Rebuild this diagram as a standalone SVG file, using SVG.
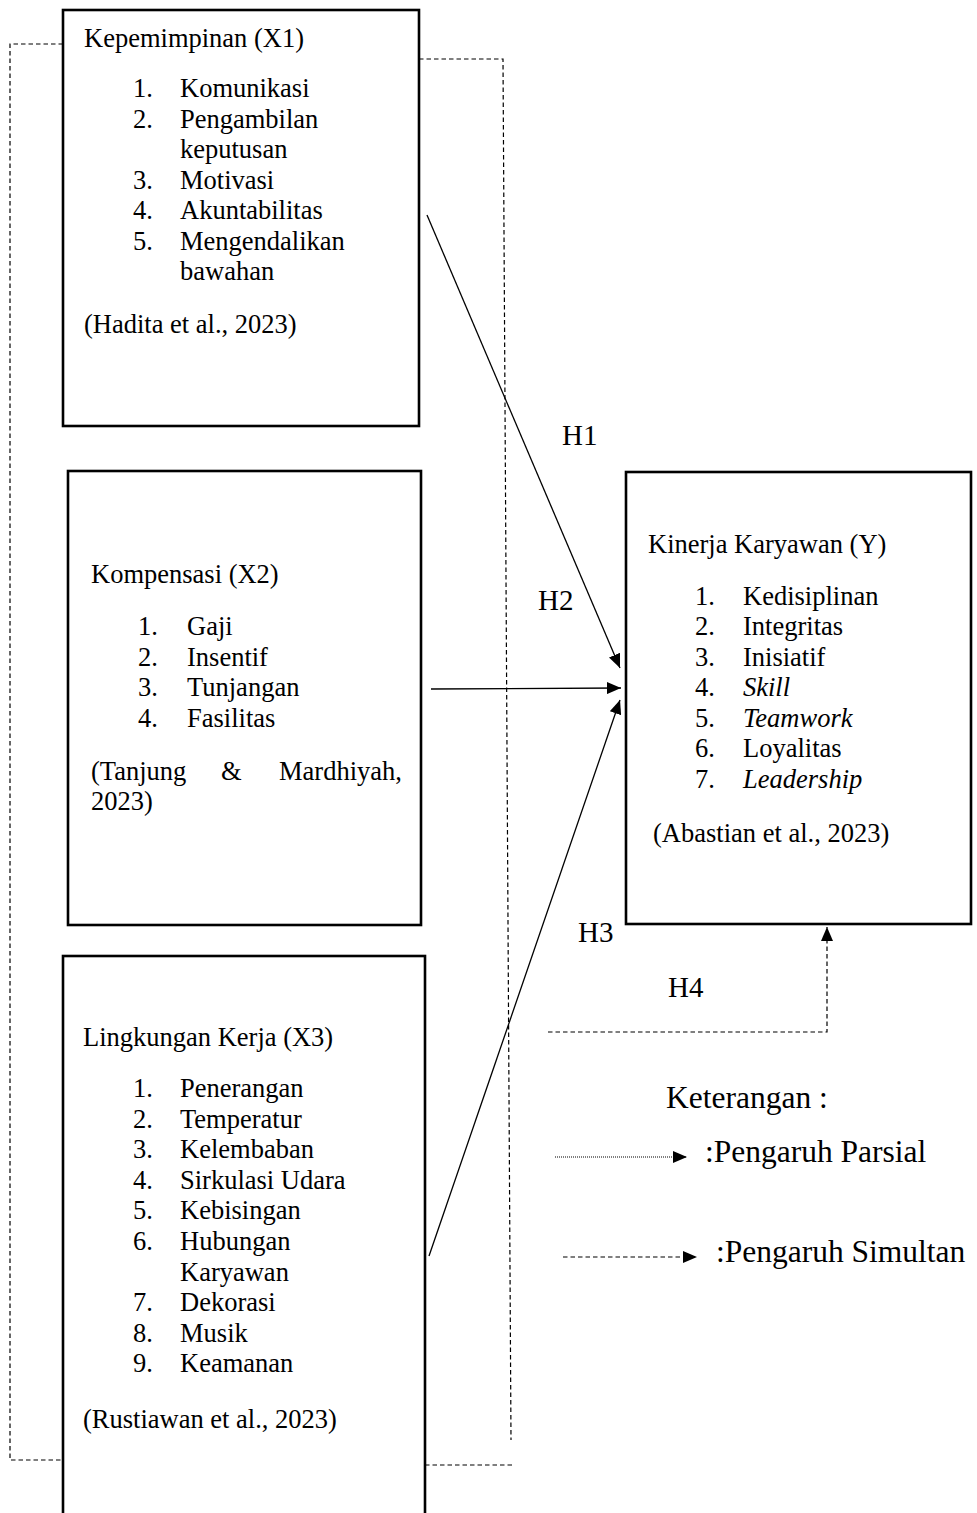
<svg xmlns="http://www.w3.org/2000/svg" width="977" height="1513" viewBox="0 0 977 1513">
<style>
text{font-family:"Liberation Serif","Times New Roman",serif;fill:#000}
.t{font-size:26.5px}
.h{font-size:29px}
.lg{font-size:31.5px}
.i{font-style:italic}
.box{fill:none;stroke:#000;stroke-width:2.6}
.con{fill:none;stroke:#000;stroke-width:1.3}
.dash{fill:none;stroke:#000;stroke-width:1.2;stroke-dasharray:4.5 3}
.dot{fill:none;stroke:#000;stroke-width:1.2;stroke-dasharray:1 1}
</style>
<defs>
<marker id="arr" viewBox="0 0 14 12" refX="14" refY="6" markerWidth="14" markerHeight="12" markerUnits="userSpaceOnUse" orient="auto">
<path d="M0,0 L14,6 L0,12 Z" fill="#000"/>
</marker>
</defs>
<rect width="977" height="1513" fill="#fff"/>

<g id="frame">
<polyline class="dash" points="63,44 10,44 10,1460 63,1460"/>
<polyline class="dash" points="419,59 503,59 511,1440"/>
<line class="dash" x1="425" y1="1465" x2="514" y2="1465"/>
</g>

<g id="x1">
<rect class="box" x="63" y="10" width="356" height="416"/>
<text class="t" x="84" y="47">Kepemimpinan (X1)</text>
<text class="t" x="133" y="97">1.</text><text class="t" x="180" y="97">Komunikasi</text>
<text class="t" x="133" y="127.5">2.</text><text class="t" x="180" y="127.5">Pengambilan</text>
<text class="t" x="180" y="158">keputusan</text>
<text class="t" x="133" y="188.5">3.</text><text class="t" x="180" y="188.5">Motivasi</text>
<text class="t" x="133" y="219">4.</text><text class="t" x="180" y="219">Akuntabilitas</text>
<text class="t" x="133" y="249.5">5.</text><text class="t" x="180" y="249.5">Mengendalikan</text>
<text class="t" x="180" y="280">bawahan</text>
<text class="t" x="84" y="333">(Hadita et al., 2023)</text>
</g>

<g id="x2">
<rect class="box" x="68" y="471" width="353" height="454"/>
<text class="t" x="91" y="583">Kompensasi (X2)</text>
<text class="t" x="138" y="635">1.</text><text class="t" x="187" y="635">Gaji</text>
<text class="t" x="138" y="666">2.</text><text class="t" x="187" y="666">Insentif</text>
<text class="t" x="138" y="696">3.</text><text class="t" x="187" y="696">Tunjangan</text>
<text class="t" x="138" y="727">4.</text><text class="t" x="187" y="727">Fasilitas</text>
<text class="t" x="91" y="780">(Tanjung</text>
<text class="t" x="221" y="780">&amp;</text>
<text class="t" x="279" y="780">Mardhiyah,</text>
<text class="t" x="91" y="810">2023)</text>
</g>

<g id="x3">
<rect class="box" x="63" y="956" width="362" height="570"/>
<text class="t" x="83" y="1046">Lingkungan Kerja (X3)</text>
<text class="t" x="133" y="1097">1.</text><text class="t" x="180" y="1097">Penerangan</text>
<text class="t" x="133" y="1128">2.</text><text class="t" x="180" y="1128">Temperatur</text>
<text class="t" x="133" y="1158">3.</text><text class="t" x="180" y="1158">Kelembaban</text>
<text class="t" x="133" y="1189">4.</text><text class="t" x="180" y="1189">Sirkulasi Udara</text>
<text class="t" x="133" y="1219">5.</text><text class="t" x="180" y="1219">Kebisingan</text>
<text class="t" x="133" y="1250">6.</text><text class="t" x="180" y="1250">Hubungan</text>
<text class="t" x="180" y="1281">Karyawan</text>
<text class="t" x="133" y="1311">7.</text><text class="t" x="180" y="1311">Dekorasi</text>
<text class="t" x="133" y="1342">8.</text><text class="t" x="180" y="1342">Musik</text>
<text class="t" x="133" y="1372">9.</text><text class="t" x="180" y="1372">Keamanan</text>
<text class="t" x="83" y="1428">(Rustiawan et al., 2023)</text>
</g>

<g id="y">
<rect class="box" x="626" y="472" width="345" height="452"/>
<text class="t" x="648" y="553">Kinerja Karyawan (Y)</text>
<text class="t" x="695" y="605">1.</text><text class="t" x="743" y="605">Kedisiplinan</text>
<text class="t" x="695" y="635">2.</text><text class="t" x="743" y="635">Integritas</text>
<text class="t" x="695" y="666">3.</text><text class="t" x="743" y="666">Inisiatif</text>
<text class="t" x="695" y="696">4.</text><text class="t i" x="743" y="696">Skill</text>
<text class="t" x="695" y="727">5.</text><text class="t i" x="743" y="727">Teamwork</text>
<text class="t" x="695" y="757">6.</text><text class="t" x="743" y="757">Loyalitas</text>
<text class="t" x="695" y="788">7.</text><text class="t i" x="743" y="788">Leadership</text>
<text class="t" x="653" y="842">(Abastian et al., 2023)</text>
</g>

<g id="connectors">
<line class="con" x1="427" y1="215" x2="620" y2="668" marker-end="url(#arr)"/>
<line class="con" x1="431" y1="689" x2="621" y2="688" marker-end="url(#arr)"/>
<line class="con" x1="429" y1="1256" x2="620" y2="700" marker-end="url(#arr)"/>
<polyline class="dash" points="548,1032 827,1032 827,927" marker-end="url(#arr)"/>
</g>

<g id="labels">
<text class="h" x="562" y="445">H1</text>
<text class="h" x="538" y="610">H2</text>
<text class="h" x="578" y="942">H3</text>
<text class="h" x="668" y="997">H4</text>
</g>

<g id="legend">
<text class="lg" x="666" y="1108">Keterangan :</text>
<line class="dot" x1="555" y1="1157" x2="687" y2="1157" marker-end="url(#arr)"/>
<text class="lg" x="705" y="1162">:Pengaruh Parsial</text>
<line class="dash" x1="563" y1="1257" x2="697" y2="1257" marker-end="url(#arr)"/>
<text class="lg" x="716" y="1262">:Pengaruh Simultan</text>
</g>
</svg>
